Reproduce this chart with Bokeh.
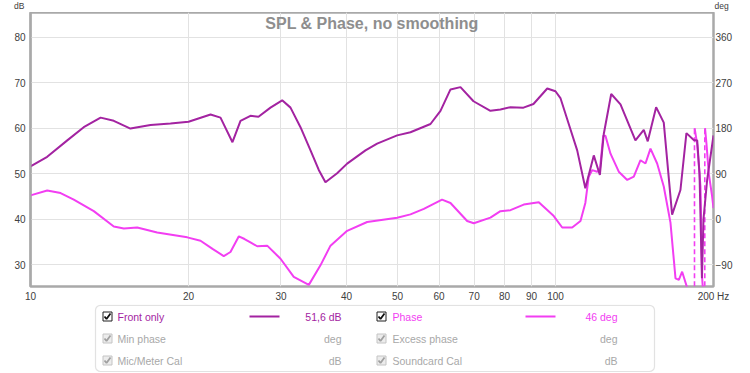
import numpy as np
from bokeh.plotting import figure
from bokeh.models import Range1d, LinearAxis, FixedTicker, Label, BoxAnnotation
from bokeh.layouts import column
from bokeh.embed import file_html
from bokeh.resources import INLINE
from bokeh.core.properties import value

# ---------------- data ----------------
spl_freq = [10.0, 10.76, 11.75, 12.63, 13.60, 14.41, 15.50, 16.93, 18.48, 20.0,
            22.03, 23.01, 24.25, 25.12, 26.24, 27.18, 28.65, 30.16, 31.28, 32.68,
            34.15, 35.41, 36.46, 38.38, 40.1, 43.46, 45.74, 49.94, 52.94, 57.8,
            60.39, 63.1, 65.92, 69.8, 75.18, 78.55, 82.08, 86.9, 90.8, 96.46,
            100.0, 102.2, 106.0, 110.0, 114.0, 118.3, 121.5, 123.6, 127.7, 133.0,
            142.0, 147.3, 149.9, 155.5, 160.8, 166.8, 173.0, 177.6, 183.4, 186.2,
            188.1, 190.1, 191.4, 194.5, 200.0]
spl_db = [51.6, 53.7, 57.3, 60.2, 62.3, 61.6, 59.9, 60.7, 61.0, 61.4,
          63.0, 62.3, 56.9, 61.6, 62.7, 62.5, 64.5, 66.1, 64.5, 60.2,
          55.1, 50.8, 48.1, 50.1, 52.2, 55.1, 56.6, 58.4, 59.1, 60.9,
          63.8, 68.5, 69.0, 65.9, 63.8, 64.1, 64.6, 64.5, 65.3, 68.7,
          68.1, 66.6, 60.9, 55.1, 46.8, 54.0, 49.7, 58.7, 67.5, 65.2,
          57.3, 59.6, 57.1, 64.6, 61.2, 41.0, 46.4, 58.9, 57.4, 57.3,
          50.0, 27.0, 40.0, 48.6, 58.4]

phase_freq_1 = [10.0, 10.76, 11.41, 12.09, 13.20, 14.41, 15.06, 15.97, 17.43, 19.89,
                21.08, 22.22, 23.34, 24.04, 24.94, 25.57, 26.24, 27.03, 28.24, 29.94,
                31.73, 33.9, 35.67, 37.28, 40.1, 43.78, 49.94, 52.94, 56.14, 60.8,
                63.1, 67.89, 69.89, 75.18, 78.55, 82.08, 87.0, 92.94, 99.26, 103.0,
                107.6, 111.6, 114.0, 115.7, 117.5, 120.1, 121.5, 123.3, 124.5, 127.3,
                132.0, 137.0, 141.0, 145.2, 148.4, 151.7, 156.2, 160.8, 165.6, 169.3,
                171.8, 174.3, 178.1, 180.7, 183.8]
phase_deg_1 = [47.0, 56.7, 51.6, 38.6, 15.8, -14.6, -18.5, -16.6, -26.3, -36.0,
               -42.7, -58.8, -73.0, -65.0, -34.0, -39.3, -45.8, -53.6, -52.4, -78.3,
               -114.0, -130.0, -91.4, -52.4, -23.2, -5.6, 2.9, 9.4, 20.4, 38.6,
               32.0, -3.7, -8.2, 2.9, 15.8, 17.8, 28.8, 33.3, 6.1, -16.6,
               -16.6, -3.7, 32.0, 84.0, 97.0, 93.8, 97.0, 165.0, 165.0, 129.5,
               93.8, 77.5, 84.0, 116.5, 110.0, 139.3, 110.0, 64.5, -7.0, -117.0,
               -120.0, -104.0, -135.0, -160.0, -180.0]
phase_freq_2 = [184.1, 186.2, 188.9, 190.3, 192.2]
phase_deg_2 = [180.0, 148.0, 64.5, -117.0, -180.0]
phase_freq_3 = [192.7, 193.9, 195.9, 198.8, 200.0]
phase_deg_3 = [180.0, 150.0, 90.0, 45.0, 22.0]
wrap_freq = [184.0, 192.5]

x_ticks = [10, 20, 30, 40, 50, 60, 70, 80, 90, 100, 200]
db_ticks = [30, 40, 50, 60, 70, 80]
deg_ticks = [-90, 0, 90, 180, 270, 360]

DB_MIN, DB_MAX = 25.2, 85.4
DEG_MIN, DEG_MAX = (DB_MIN - 40) * 9, (DB_MAX - 40) * 9

SPL_C = "#a323a1"
PH_C = "#f23ef2"
FONT = "Liberation Sans"
W = 750
BL, BR = 30, 37          # frame borders shared by all panels (frames get aligned)
FL, FR = BL, W - BR      # frame left/right in page pixels
HH = 12                  # header height


def plain_axis(ax, size="10px"):
    ax.axis_line_color = None
    ax.major_tick_line_color = None
    ax.minor_tick_line_color = None
    ax.major_tick_out = 0
    ax.major_tick_in = 0
    ax.minor_tick_out = 0
    ax.major_label_text_font = FONT
    ax.major_label_text_font_size = size
    ax.major_label_text_color = "#404040"


# ---------------- unit header (dB / deg) ----------------
hd = figure(width=W, height=HH, x_range=Range1d(FL, FR), y_range=Range1d(0, HH),
            x_axis_location=None, y_axis_location="left", title=None,
            output_backend="svg", toolbar_location=None,
            min_border_left=BL, min_border_right=BR, min_border_top=0, min_border_bottom=0)
hd.grid.visible = False
hd.outline_line_color = None
hd.yaxis.ticker = FixedTicker(ticks=[6.5])
hd.yaxis.major_label_overrides = {6.5: "dB"}
hd_r = LinearAxis(ticker=FixedTicker(ticks=[6.5]), major_label_overrides={6.5: "deg"})
hd.add_layout(hd_r, "right")
for ax in hd.yaxis:
    plain_axis(ax, "8.5px")
hd.yaxis[0].major_label_standoff = 6
hd_r.major_label_standoff = 1

# ---------------- main chart ----------------
p = figure(width=W, height=304 - HH, title=None, x_axis_type="log",
           x_range=Range1d(10, 200), y_range=Range1d(DB_MIN, DB_MAX),
           output_backend="svg", toolbar_location=None,
           min_border_left=BL, min_border_right=BR, min_border_top=0, min_border_bottom=16)
p.extra_y_ranges = {"deg": Range1d(DEG_MIN, DEG_MAX)}

p.xaxis.ticker = FixedTicker(ticks=x_ticks)
p.xaxis.major_label_overrides = {t: (str(t) if t != 200 else "200 Hz") for t in x_ticks}
p.yaxis.ticker = FixedTicker(ticks=db_ticks)
rax = LinearAxis(y_range_name="deg", ticker=FixedTicker(ticks=deg_ticks))
p.add_layout(rax, "right")

for ax in p.axis:
    plain_axis(ax)
p.xaxis.major_label_standoff = 4
p.yaxis[0].major_label_standoff = 5
rax.major_label_standoff = 2
p.yaxis[0].axis_line_color = "#a9a9a9"
p.yaxis[0].axis_line_width = 2

p.xgrid.grid_line_color = "#e2e2e2"
p.ygrid.grid_line_color = "#e2e2e2"
p.outline_line_color = "#a9a9a9"
p.outline_line_width = 2.5
p.background_fill_color = "white"
p.border_fill_color = "white"

# phase
p.line(phase_freq_1, phase_deg_1, y_range_name="deg", line_color=PH_C, line_width=2)
p.line(phase_freq_2, phase_deg_2, y_range_name="deg", line_color=PH_C, line_width=2)
p.line(phase_freq_3, phase_deg_3, y_range_name="deg", line_color=PH_C, line_width=2)
p.segment(x0=wrap_freq, y0=[-180] * len(wrap_freq), x1=wrap_freq, y1=[180] * len(wrap_freq),
          y_range_name="deg", line_color=PH_C, line_width=1.6, line_dash="5 3")
# SPL
p.line(spl_freq, spl_db, line_color=SPL_C, line_width=2)

p.add_layout(Label(x=float(np.sqrt(10 * 200)), y=DB_MAX, y_offset=-2,
                   text="SPL & Phase, no smoothing", text_align="center", text_baseline="top",
                   text_font=FONT, text_font_size="16px", text_font_style="bold",
                   text_color="#8e8e8e"))

# ---------------- legend panel ----------------
LH = 69
lg = figure(width=W, height=LH, x_range=Range1d(FL, FR), y_range=Range1d(LH, 0),
            x_axis_location=None, y_axis_location=None, title=None,
            output_backend="svg", toolbar_location=None,
            min_border_left=BL, min_border_right=BR, min_border_top=0, min_border_bottom=0)
lg.grid.visible = False
lg.outline_line_color = None
lg.add_layout(BoxAnnotation(left=95, right=654, top=0.8, bottom=67, level="underlay",
                            fill_color="white", fill_alpha=1.0,
                            line_color="#a0a0a0", line_width=1.2, border_radius=5))

rows_y = [12, 34, 56]
col_box = [107, 381]
col_text = [117, 392]
col_val = [341, 617]
col_line = [(249, 279), (525, 555)]

names = [["Front only", "Phase"], ["Min phase", "Excess phase"], ["Mic/Meter Cal", "Soundcard Cal"]]
vals = [["51,6 dB", "46 deg"], ["deg", "deg"], ["dB", "dB"]]
active_colors = [SPL_C, PH_C]
GREY_T = "#a8a8a8"

for r, yy in enumerate(rows_y):
    for c in range(2):
        active = (r == 0)
        cx = col_box[c]
        lg.rect(x=cx, y=yy, width=9, height=9,
                fill_color="white" if active else "#ececec",
                line_color="#202020" if active else "#c4c4c4", line_width=1)
        lg.line(x=[cx - 3, cx - 1, cx + 3], y=[yy, yy + 2.5, yy - 3],
                line_color="#101010" if active else "#a0a0a0", line_width=1.8)
        tc = active_colors[c] if active else GREY_T
        lg.text(x=[col_text[c]], y=[yy], text=[names[r][c]], text_color=tc,
                text_font=value(FONT), text_font_size=value("10.5px"),
                text_baseline="middle", text_align="left")
        lg.text(x=[col_val[c]], y=[yy], text=[vals[r][c]], text_color=tc,
                text_font=value(FONT), text_font_size=value("10.5px"),
                text_baseline="middle", text_align="right")
        if active:
            x0, x1 = col_line[c]
            lg.line(x=[x0, x1], y=[yy, yy], line_color=active_colors[c], line_width=2)

layout = column(hd, p, lg, spacing=0)
open("out.html", "w").write(file_html(layout, INLINE))
